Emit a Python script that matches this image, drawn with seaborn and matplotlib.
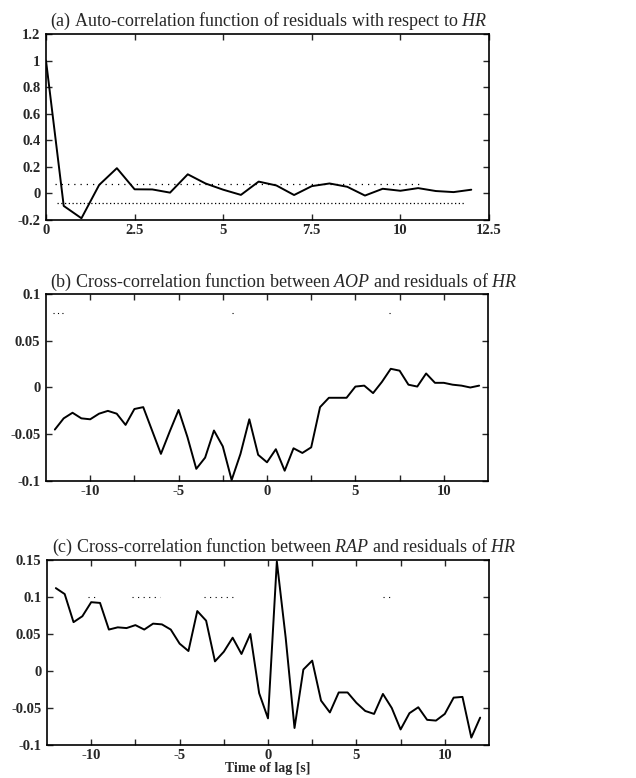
import numpy as np
import pandas as pd
import matplotlib
matplotlib.use("Agg")
import matplotlib.pyplot as plt
import seaborn as sns

# ---------------- data ----------------
lag_a = [0, 0.5, 1, 1.5, 2, 2.5, 3, 3.5, 4, 4.5, 5, 5.5, 6, 6.5, 7, 7.5, 8, 8.5,
         9, 9.5, 10, 10.5, 11, 11.5, 12]
acf_hr = [1.0, -0.094, -0.187, 0.064, 0.19, 0.031, 0.03, 0.006, 0.144, 0.075,
          0.028, -0.011, 0.089, 0.06, -0.012, 0.055, 0.075, 0.05, -0.016, 0.035,
          0.02, 0.04, 0.018, 0.01, 0.028]

lag_bc = [-12, -11.5, -11, -10.5, -10, -9.5, -9, -8.5, -8, -7.5, -7, -6.5, -6,
          -5.5, -5, -4.5, -4, -3.5, -3, -2.5, -2, -1.5, -1, -0.5, 0, 0.5, 1,
          1.5, 2, 2.5, 3, 3.5, 4, 4.5, 5, 5.5, 6, 6.5, 7, 7.5, 8, 8.5, 9, 9.5,
          10, 10.5, 11, 11.5, 12]
ccf_aop = [-0.045, -0.033, -0.027, -0.033, -0.034, -0.028, -0.025, -0.028, -0.040,
           -0.023, -0.021, -0.046, -0.071, -0.047, -0.024, -0.053, -0.087, -0.075,
           -0.046, -0.063, -0.099, -0.071, -0.034, -0.072, -0.080, -0.066, -0.089,
           -0.065, -0.070, -0.064, -0.021, -0.011, -0.011, -0.011, 0.001, 0.002,
           -0.006, 0.006, 0.020, 0.018, 0.003, 0.001, 0.015, 0.005, 0.005, 0.003,
           0.002, 0.000, 0.002]
ccf_rap = [0.112, 0.104, 0.066, 0.074, 0.093, 0.092, 0.056, 0.059, 0.058, 0.062,
           0.056, 0.064, 0.063, 0.056, 0.037, 0.027, 0.081, 0.068, 0.013, 0.026,
           0.045, 0.023, 0.050, -0.030, -0.064, 0.148, 0.045, -0.077, 0.002, 0.014,
           -0.040, -0.056, -0.029, -0.029, -0.043, -0.054, -0.058, -0.031, -0.050,
           -0.079, -0.057, -0.049, -0.066, -0.067, -0.058, -0.036, -0.035, -0.090,
           -0.063]

# confidence-limit dotted lines (partly faded in the scan)
conf_a = 0.07
conf_a_upper_span = (0.25, 10.6)
conf_a_lower_span = (0.3, 11.8)
conf_b = 0.08
conf_b_segments = [(-12.1, -11.4), (-2.0, -1.85), (6.9, 7.05)]
conf_c = 0.10
conf_c_segments = [(-10.2, -9.8), (-7.7, -6.1), (-3.6, -1.8), (6.5, 7.1)]

titles = [
    r"(a) Auto-correlation function of residuals with respect to $\mathit{HR}$",
    r"(b) Cross-correlation function between $\mathit{AOP}$ and residuals of $\mathit{HR}$",
    r"(c) Cross-correlation function between $\mathit{RAP}$ and residuals of $\mathit{HR}$",
]
xlabel_c = "Time of lag [s]"

xticks_a = [0, 2.5, 5, 7.5, 10, 12.5]
xticklabels_a = ["0", "2.5", "5", "7.5", "10", "12.5"]
yticks_a = [-0.2, 0, 0.2, 0.4, 0.6, 0.8, 1.0, 1.2]
yticklabels_a = ["-0.2", "0", "0.2", "0.4", "0.6", "0.8", "1", "1.2"]

xticks_bc = [-10, -7.5, -5, -2.5, 0, 2.5, 5, 7.5, 10]
xticklabels_bc = ["-10", "", "-5", "", "0", "", "5", "", "10"]
yticks_b = [-0.1, -0.05, 0, 0.05, 0.1]
yticklabels_b = ["-0.1", "-0.05", "0", "0.05", "0.1"]
yticks_c = [-0.1, -0.05, 0, 0.05, 0.1, 0.15]
yticklabels_c = ["-0.1", "-0.05", "0", "0.05", "0.1", "0.15"]

# ---------------- style ----------------
sns.set_style("ticks")
plt.rcParams["font.family"] = ["Liberation Serif", "DejaVu Serif"]
plt.rcParams["mathtext.fontset"] = "custom"
plt.rcParams["mathtext.rm"] = "Liberation Serif"
plt.rcParams["mathtext.it"] = "Liberation Serif:italic"
plt.rcParams["axes.linewidth"] = 1.2

W, H = 636, 778
fig = plt.figure(figsize=(W / 100, H / 100), dpi=100)


def add_ax(left, right, top, bottom):
    return fig.add_axes([left / W, 1 - bottom / H, (right - left) / W, (bottom - top) / H])


ax_a = add_ax(46, 489, 34, 220)
ax_b = add_ax(46, 488, 294, 481)
ax_c = add_ax(47, 489, 560, 745)

df_a = pd.DataFrame({"lag": lag_a, "r": acf_hr})
df_b = pd.DataFrame({"lag": lag_bc, "r": ccf_aop})
df_c = pd.DataFrame({"lag": lag_bc, "r": ccf_rap})

for ax, df in [(ax_a, df_a), (ax_b, df_b), (ax_c, df_c)]:
    sns.lineplot(data=df, x="lag", y="r", ax=ax, color="black", lw=1.4)

# dotted limits
ax_a.hlines(conf_a, *conf_a_upper_span, colors="black", lw=0.9, linestyles=(0, (1, 4)))
ax_a.hlines(-conf_a, *conf_a_lower_span, colors="black", lw=0.9, linestyles=(0, (1, 2)))
for s, e in conf_b_segments:
    ax_b.hlines(conf_b, s, e, colors="black", lw=0.8, linestyles=(0, (1, 3)))
for s, e in conf_c_segments:
    ax_c.hlines(conf_c, s, e, colors="black", lw=0.8, linestyles=(0, (1, 4)))

ax_a.set_xlim(0, 12.5)
ax_a.set_ylim(-0.2, 1.2)
ax_b.set_xlim(-12.5, 12.5)
ax_b.set_ylim(-0.1, 0.1)
ax_c.set_xlim(-12.5, 12.5)
ax_c.set_ylim(-0.1, 0.15)

cfg = [
    (ax_a, xticks_a, xticklabels_a, yticks_a, yticklabels_a),
    (ax_b, xticks_bc, xticklabels_bc, yticks_b, yticklabels_b),
    (ax_c, xticks_bc, xticklabels_bc, yticks_c, yticklabels_c),
]
for ax, xt, xl, yt, yl in cfg:
    ax.set_xticks(xt)
    ax.set_xticklabels(xl, fontsize=10.5, fontweight="bold")
    ax.set_yticks(yt)
    ax.set_yticklabels(yl, fontsize=10.5, fontweight="bold")
    ax.tick_params(direction="in", length=4, width=1.0, top=True, right=True)
    ax.tick_params(axis="x", pad=3)
    ax.tick_params(axis="y", pad=4)
    ax.set_xlabel("")
    ax.set_ylabel("")
    for sp in ax.spines.values():
        sp.set_visible(True)
        sp.set_color("black")

ax_c.set_xlabel(xlabel_c, fontsize=10, fontweight="bold", labelpad=0)

# titles (left-aligned above each panel)
for ax, t, base, x0 in [(ax_a, titles[0], 26, 50), (ax_b, titles[1], 287, 50),
                        (ax_c, titles[2], 552, 52)]:
    fig.text(x0 / W, 1 - base / H, t, ha="left", va="baseline", fontsize=13)

fig.savefig("out.png", dpi=100, facecolor="white")
